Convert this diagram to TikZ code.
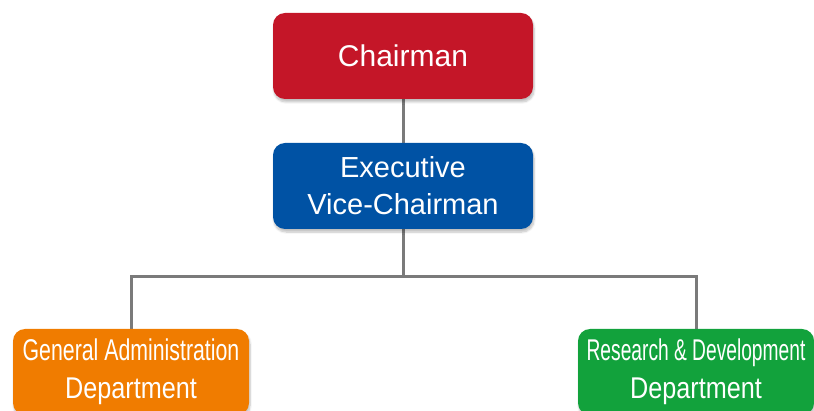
\documentclass[tikz,border=0pt]{standalone}
\usepackage{fontspec}
\setmainfont{Liberation Sans}
\usepackage{graphicx}
\usetikzlibrary{shadows.blur,backgrounds}
\definecolor{cred}{RGB}{196,22,40}
\definecolor{cblue}{RGB}{0,82,164}
\definecolor{corange}{RGB}{240,124,0}
\definecolor{cgreen}{RGB}{18,162,60}
\definecolor{cline}{RGB}{122,122,122}
\begin{document}
\begin{tikzpicture}[x=1pt,y=-1pt,
  orgbox/.style={rounded corners=12pt, minimum width=#1, minimum height=86pt,
    inner sep=0pt, text=white, align=center,
    blur shadow={shadow xshift=1pt, shadow yshift=-3pt, shadow blur steps=6, shadow opacity=25}},
  conn/.style={draw=cline, line width=3pt}]
\useasboundingbox (0,0) rectangle (814,411);
\node[orgbox=260pt, fill=cred, font=\fontsize{30}{36}\selectfont] (chair) at (403,56) {Chairman};
\node[orgbox=260pt, fill=cblue, font=\fontsize{29}{37}\selectfont] (exec) at (403,186) {Executive\\Vice-Chairman};
\node[orgbox=236pt, fill=corange, font=\fontsize{30}{38}\selectfont] (gad) at (131,372)
  {\scalebox{0.71}[1]{General Administration}\\\scalebox{0.84}[1]{Department}};
\node[orgbox=236pt, fill=cgreen, font=\fontsize{30}{38}\selectfont] (rd) at (696,372)
  {\scalebox{0.64}[1]{Research \& Development}\\\scalebox{0.84}[1]{Department}};
\coordinate (hub) at (403,277);
\begin{scope}[on background layer]
\draw[conn] (chair.south) -- (exec.north);
\draw[conn] (exec.south) -- (hub);
\draw[conn] (gad.north) |- (hub) -| (rd.north);
\end{scope}
\end{tikzpicture}
\end{document}
